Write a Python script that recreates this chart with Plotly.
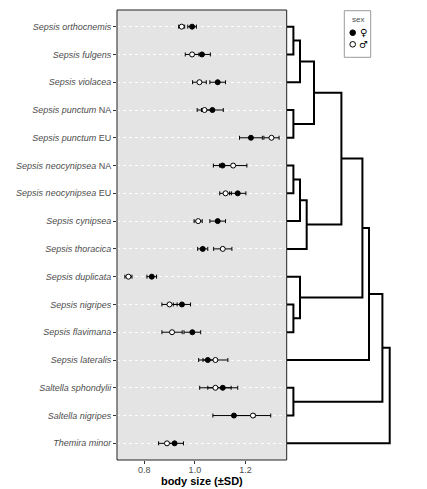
import plotly.graph_objects as go

# ---------------- data ----------------
species = [
    "Sepsis orthocnemis", "Sepsis fulgens", "Sepsis violacea", "Sepsis punctum NA",
    "Sepsis punctum EU", "Sepsis neocynipsea NA", "Sepsis neocynipsea EU", "Sepsis cynipsea",
    "Sepsis thoracica", "Sepsis duplicata", "Sepsis nigripes", "Sepsis flavimana",
    "Sepsis lateralis", "Saltella sphondylii", "Saltella nigripes", "Themira minor",
]
tick_labels = [
    "<i>Sepsis orthocnemis</i>", "<i>Sepsis fulgens</i>", "<i>Sepsis violacea</i>",
    "<i>Sepsis punctum</i> NA", "<i>Sepsis punctum</i> EU", "<i>Sepsis neocynipsea</i> NA",
    "<i>Sepsis neocynipsea</i> EU", "<i>Sepsis cynipsea</i>", "<i>Sepsis thoracica</i>",
    "<i>Sepsis duplicata</i>", "<i>Sepsis nigripes</i>", "<i>Sepsis flavimana</i>",
    "<i>Sepsis lateralis</i>", "<i>Saltella sphondylii</i>", "<i>Saltella nigripes</i>",
    "<i>Themira minor</i>",
]
female_mean = [0.989, 1.028, 1.090, 1.069, 1.221, 1.109, 1.169, 1.090,
               1.031, 0.830, 0.949, 0.990, 1.051, 1.110, 1.154, 0.920]
female_sd = [0.017, 0.033, 0.031, 0.043, 0.045, 0.036, 0.032, 0.031,
             0.020, 0.019, 0.034, 0.033, 0.036, 0.059, 0.083, 0.035]
male_mean = [0.948, 0.989, 1.018, 1.038, 1.302, 1.151, 1.121, 1.013,
             1.110, 0.738, 0.900, 0.910, 1.081, 1.081, 1.229, 0.890]
male_sd = [0.012, 0.027, 0.027, 0.029, 0.030, 0.054, 0.023, 0.016,
           0.036, 0.014, 0.030, 0.040, 0.049, 0.062, 0.070, 0.033]

x_tick_vals = [0.8, 1.0, 1.2]
x_tick_text = ["0.8", "1.0", "1.2"]

# dendrogram merges (relative heights)
merge_id = ["m0", "m1", "m2", "m3", "m4", "m5", "m6", "m7",
            "m8", "m9", "m10", "m11", "m12", "m13", "m14"]
merge_left = ["Sepsis orthocnemis", "m0", "Sepsis punctum NA", "m1", "Sepsis neocynipsea NA",
              "m4", "m5", "m3", "Sepsis nigripes", "Sepsis duplicata", "m7", "m10",
              "Saltella sphondylii", "m11", "m13"]
merge_right = ["Sepsis fulgens", "Sepsis violacea", "Sepsis punctum EU", "m2",
               "Sepsis neocynipsea EU", "Sepsis cynipsea", "Sepsis thoracica", "m6",
               "Sepsis flavimana", "m8", "m9", "Sepsis lateralis", "Saltella nigripes",
               "m12", "Themira minor"]
merge_height = [0.065, 0.129, 0.065, 0.265, 0.065, 0.129, 0.194, 0.531,
                0.065, 0.129, 0.735, 0.799, 0.065, 0.929, 1.0]

# ---------------- build ----------------
y_index = list(range(len(species)))
pos = {s: (i, 0.0) for s, i in zip(species, y_index)}
dx, dy = [], []
for mid, a, b, h in zip(merge_id, merge_left, merge_right, merge_height):
    ya, ha = pos[a]
    yb, hb = pos[b]
    dx += [ha, h, h, hb, None]
    dy += [ya, ya, yb, yb, None]
    pos[mid] = ((ya + yb) / 2, h)

FONT = "Liberation Sans, Arial, sans-serif"
fig = go.Figure()

fig.add_trace(go.Scatter(
    x=female_mean, y=y_index, mode="markers", name="♀", showlegend=False,
    marker=dict(symbol="circle", size=5, color="black", line=dict(color="black", width=1)),
    error_x=dict(type="data", array=female_sd, color="black", thickness=1, width=2),
    xaxis="x", yaxis="y",
))
fig.add_trace(go.Scatter(
    x=male_mean, y=y_index, mode="markers", name="♂", showlegend=False,
    marker=dict(symbol="circle", size=5, color="white", line=dict(color="black", width=1)),
    error_x=dict(type="data", array=male_sd, color="black", thickness=1, width=2),
    xaxis="x", yaxis="y",
))
fig.add_trace(go.Scatter(
    x=dx, y=dy, mode="lines", showlegend=False, hoverinfo="skip",
    line=dict(color="black", width=2), xaxis="x2", yaxis="y",
))

# page has an 8px body margin; figure sized to fill the rest of the window
OFF = 8
W, H = 427 - OFF, 489 - OFF
ml, mr, mt, mb = 117 - OFF, 0, 10 - OFF, 29
pw = W - ml - mr
ph = H - mt - mb
split = (286.7 - OFF - ml) / pw

def px_x(p):  # reference-window pixel -> paper
    return (p - OFF - ml) / pw

def px_y(p):
    return (H - mb - (p - OFF)) / ph

fig.update_layout(
    width=W, height=H,
    margin=dict(l=ml, r=mr, t=mt, b=mb, pad=0, autoexpand=False),
    paper_bgcolor="white", plot_bgcolor="white",
    font=dict(family=FONT, size=9, color="#4D4D4D"),
    xaxis=dict(domain=[0, split], range=[0.693, 1.362], anchor="y", automargin=False,
               tickvals=x_tick_vals, ticktext=x_tick_text, ticks="outside",
               ticklen=3, tickcolor="#333333", showgrid=False, zeroline=False,
               ticklabelstandoff=-2,
               tickfont=dict(size=9, color="#4D4D4D"),
               title=dict(text="<b>body size (±SD)</b>", standoff=0,
                          font=dict(size=11, color="black"))),
    xaxis2=dict(domain=[split, 1], range=[0, 1.362], anchor="y", visible=False,
                showgrid=False, zeroline=False),
    yaxis=dict(range=[15.6, -0.6], tickvals=y_index, ticktext=tick_labels, automargin=False,
               ticks="outside", ticklen=3, tickcolor="#333333",
               showgrid=True, gridcolor="rgba(255,255,255,0.9)", griddash="dot", gridwidth=1,
               zeroline=False, tickfont=dict(size=9, color="#4D4D4D")),
    shapes=[
        dict(type="rect", xref="x domain", yref="y domain", x0=0, x1=1, y0=0, y1=1,
             fillcolor="#E4E4E4", line=dict(width=0), layer="below"),
        dict(type="rect", xref="x domain", yref="y domain", x0=0, x1=1, y0=0, y1=1,
             fillcolor="rgba(0,0,0,0)", line=dict(color="#222222", width=1), layer="above"),
        # legend box
        dict(type="rect", xref="paper", yref="paper", x0=px_x(344.3), x1=px_x(370.7),
             y0=px_y(57.3), y1=px_y(10.7), fillcolor="white",
             line=dict(color="#9A9A9A", width=1), layer="above"),
        dict(type="circle", xref="paper", yref="paper", xsizemode="pixel", ysizemode="pixel",
             xanchor=px_x(352.7), yanchor=px_y(32.7), x0=-2.8, x1=2.8, y0=-2.8, y1=2.8,
             fillcolor="black", line=dict(color="black", width=1), layer="above"),
        dict(type="circle", xref="paper", yref="paper", xsizemode="pixel", ysizemode="pixel",
             xanchor=px_x(352.7), yanchor=px_y(44.3), x0=-2.8, x1=2.8, y0=-2.8, y1=2.8,
             fillcolor="white", line=dict(color="black", width=1), layer="above"),
    ],
    annotations=[
        dict(text="sex", xref="paper", yref="paper", x=px_x(357.5), y=px_y(19),
             showarrow=False, font=dict(size=8, color="#4D4D4D"),
             xanchor="center", yanchor="middle"),
        dict(text="<b>♀</b>", xref="paper", yref="paper", x=px_x(363), y=px_y(32.5),
             showarrow=False, font=dict(family="DejaVu Sans", size=10, color="black"),
             xanchor="center", yanchor="middle"),
        dict(text="<b>♂</b>", xref="paper", yref="paper", x=px_x(363), y=px_y(44.5),
             showarrow=False, font=dict(family="DejaVu Sans", size=10, color="black"),
             xanchor="center", yanchor="middle"),
    ],
)

fig.write_html("out.html")
